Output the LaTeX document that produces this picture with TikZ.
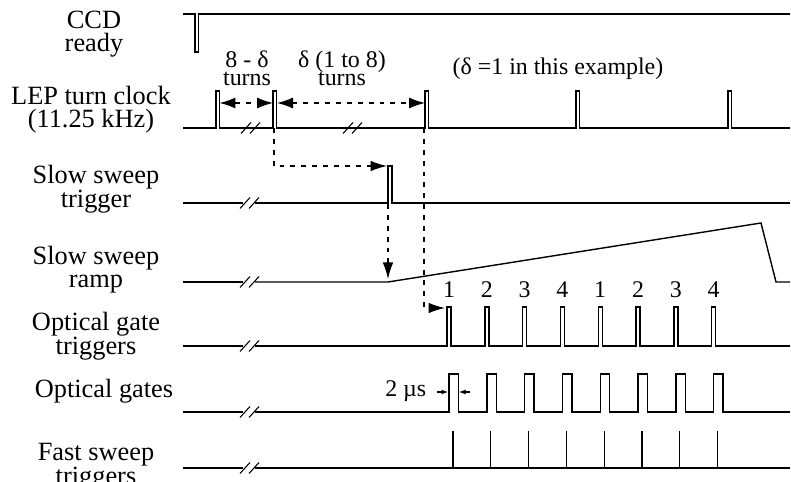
\documentclass[tikz,border=0pt]{standalone}
\usepackage{fontspec}
\setmainfont{Liberation Serif}
\usepackage{tikz}
\usetikzlibrary{arrows.meta}

\tikzset{
  lbl/.style={font=\fontsize{15}{13.1}\selectfont, align=center, anchor=base, inner sep=0pt},
  note/.style={font=\fontsize{13.6}{10.8}\selectfont, align=center, anchor=base, inner sep=0pt},
  link/.style={line width=0.7pt, dash pattern=on 2.8pt off 3.4pt},
  bigtip/.style={-{Latex[length=3.3mm,width=2.1mm]}},
  bothtips/.style={{Latex[length=3.2mm,width=2.2mm]}-{Latex[length=3.2mm,width=2.2mm]}},
  smalltip/.style={line width=0.6pt, -{Latex[length=1.3mm,width=1mm]}}
}
% break mark on a time axis
\newcommand{\timebreak}[2]{%
  \draw[line width=0.6pt] (#1-5,#2+5.5) -- (#1+5,#2-5.5) (#1+4,#2+5.5) -- (#1+14,#2-5.5);}

\begin{document}
\begin{tikzpicture}[x=0.02cm, y=-0.02cm, line width=0.8pt]
    \useasboundingbox (0,0) rectangle (791,482);
    % signal names (anchored on the last line)
    \node[lbl] (ccd) at (94,52) {CCD\\ready};
    \node[lbl] (lep) at (91,128) {LEP turn clock\\(11.25 kHz)};
    \node[lbl] (sstrig) at (96,208) {Slow sweep\\trigger};
    \node[lbl] (ssramp) at (96,288) {Slow sweep\\ramp};
    \node[lbl] (ogtrig) at (96,355) {Optical gate\\triggers};
    \node[lbl] (ogates) at (104,398) {Optical gates};
    \node[lbl] (fstrig) at (96,485) {Fast sweep\\triggers};
    % notes
    \node[note] (turnsa) at (247,86) {8 - δ\\turns};
    \node[note] (turnsb) at (342,86) {δ (1 to 8)\\turns};
    \node[note, anchor=base west] (example) at (452,75) {(δ =1 in this example)};
    \node[note, anchor=base east] (gatewidth) at (427,397) {2 µs};
    \foreach \n [count=\i from 0] in {1,2,3,4,1,2,3,4}
      \node[note] (num\i) at ({449+37.8*\i},298) {\n};

    % CCD ready
    \draw (183,14) -- (195,14) -- (195,52) -- (198.5,52) -- (198.5,14) -- (790,14);
    % LEP turn clock
    \draw (183,128) foreach \x in {216,273,425,576,728}
      { -- (\x,128) -- (\x,91) -- (\x+3.5,91) -- (\x+3.5,128) } -- (790,128);
    \timebreak{246}{128}
    \timebreak{348}{128}
    % slow sweep trigger
    \draw (183,203) -- (243,203);
    \timebreak{245}{203}
    \draw (255,203) -- (388,203) -- (388,166) -- (392,166) -- (392,203) -- (790,203);
    % slow sweep ramp
    \draw (183,282) -- (243,282);
    \timebreak{245}{282}
    \draw (255,282) -- (388,282) -- (761,223) -- (776,282) -- (790,282);
    % optical gate triggers
    \draw (183,346) -- (243,346);
    \timebreak{245}{346}
    \draw (255,346) foreach \i in {0,...,7}
      { -- ({447+37.8*\i},346) -- ({447+37.8*\i},307) -- ({451+37.8*\i},307) -- ({451+37.8*\i},346) }
      -- (790,346);
    % optical gates
    \draw (183,412) -- (243,412);
    \timebreak{245}{412}
    \draw (255,412) foreach \i in {0,...,7}
      { -- ({449+37.8*\i},412) -- ({449+37.8*\i},374) -- ({458.5+37.8*\i},374) -- ({458.5+37.8*\i},412) }
      -- (790,412);
    % fast sweep triggers
    \draw (183,468) -- (243,468);
    \timebreak{245}{468}
    \draw (255,468) -- (790,468);
    \foreach \i in {0,...,7}
      \draw[line width=0.6pt] ({453+37.8*\i},468) -- ({453+37.8*\i},431);

    % timing relations
    \coordinate (tickA) at (219.5,103);
    \coordinate (tickB) at (273,103);
    \coordinate (tickC) at (277,103);
    \coordinate (tickD) at (425,103);
    \draw[link, bothtips] (tickA) -- (tickB);
    \draw[link, bothtips] (tickC) -- (tickD);
    \coordinate (turn2) at (274,128);
    \coordinate (turn3) at (424,128);
    \coordinate (sstop) at (387,166);
    \coordinate (ssfoot) at (388,204);
    \coordinate (rampstart) at (388,279);
    \coordinate (gatestart) at (445,308);
    \draw[link, bigtip] (turn2) |- (sstop);
    \draw[link, bigtip] (turn3) |- (gatestart);
    \draw[link, bigtip] (ssfoot) -- (rampstart);
    \coordinate (wl) at (437,392);
    \coordinate (wr) at (470,392);
    \draw[smalltip] (wl) -- (448,392);
    \draw[smalltip] (wr) -- (459,392);
\end{tikzpicture}
\end{document}
